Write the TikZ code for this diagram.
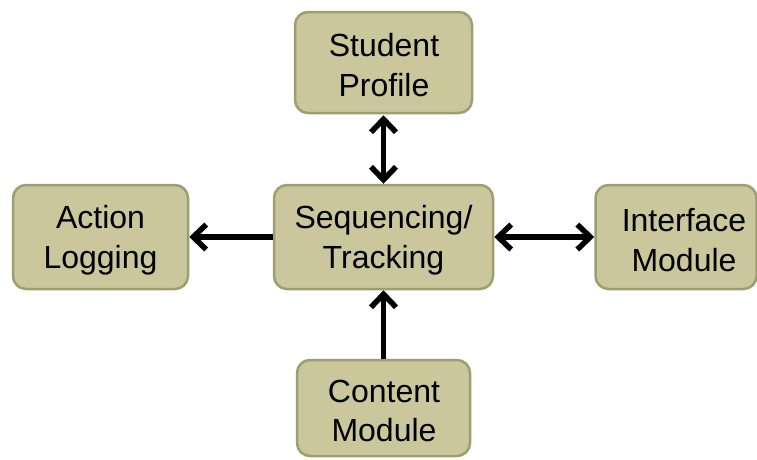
\documentclass[tikz,border=0pt]{standalone}
\usepackage{fontspec}
\setmainfont{Liberation Sans}
\usetikzlibrary{arrows.meta}
\definecolor{boxfill}{RGB}{201,199,155}
\definecolor{boxline}{RGB}{158,158,112}
\tikzset{
  module/.style={draw=boxline, fill=boxfill, line width=2.5pt, rounded corners=13pt, inner sep=0pt},
  caption/.style={align=center, font=\fontsize{32}{39.5}\selectfont, inner sep=0pt},
  barb/.tip={Straight Barb[length=13pt,width=25pt,line width=5.5pt]},
  link/.style={line width=5.5pt, black, arrows={-barb}},
  dlink/.style={line width=5.5pt, black, arrows={barb-barb}}
}
\begin{document}
\begin{tikzpicture}[x=1pt,y=-1pt]
\useasboundingbox (0,0) rectangle (757,459);
\clip (0,0) rectangle (757,459);
% boxes
\node[module, minimum width=177pt, minimum height=101pt] (sp) at (383.5,62.5) {};
\node[module, minimum width=175pt, minimum height=104pt] (al) at (100.5,237) {};
\node[module, minimum width=219pt, minimum height=104pt] (seq) at (383.5,237) {};
\node[module, minimum width=161pt, minimum height=104pt] (im) at (676,237) {};
\node[module, minimum width=173pt, minimum height=96pt] (cm) at (383.5,408) {};
% captions
\node[caption] (spt) at (384,65) {Student\\Profile};
\node[caption] (alt) at (100.5,240) {Action\\Logging};
\node[caption] (seqt) at (383.5,240) {Sequencing/\\Tracking};
\node[caption] (imt) at (684,240) {Interface\\Module};
\node[caption] (cmt) at (384,411) {Content\\Module};
% connectors
\draw[dlink, shorten <=1pt] (sp.south) -- (seq.north);
\draw[link] (seq.west) -- (al.east);
\draw[dlink] (seq.east) -- (im.west);
\draw[link] (cm.north) -- (seq.south);
\end{tikzpicture}
\end{document}
